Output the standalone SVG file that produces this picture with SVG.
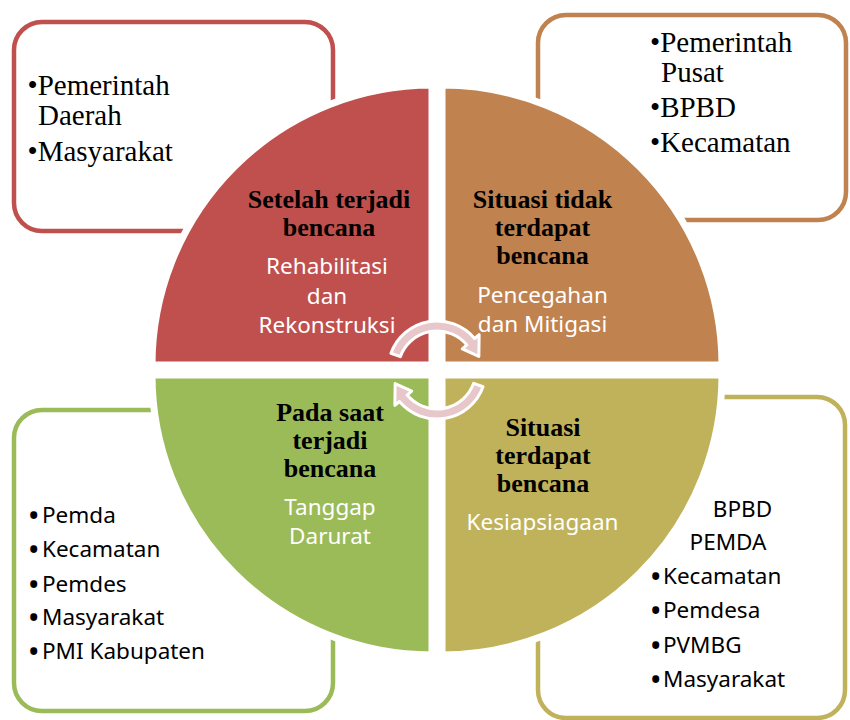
<svg xmlns="http://www.w3.org/2000/svg" width="850" height="720" viewBox="0 0 850 720">
<style>
.box{fill:#fff;stroke-width:4.5}
.q{stroke:#fff;stroke-width:7}
.hd{font-family:"Liberation Serif","Times New Roman",serif;font-weight:bold;font-size:26px;fill:#000;text-anchor:middle}
.wt{font-family:"Noto Sans","Open Sans",sans-serif;font-size:22.5px;fill:#fff;text-anchor:middle}
.sl{font-family:"Liberation Serif","Times New Roman",serif;font-size:29px;fill:#000}
.ss{font-family:"Noto Sans","Open Sans",sans-serif;font-size:22.5px;fill:#000}
.b{font-size:25px;font-weight:bold}
.arr{fill:#E7C7C9;stroke:#fff;stroke-width:3;stroke-linejoin:round}
</style>
<rect width="850" height="720" fill="#fff"/>
<g id="box-red"><rect class="box" x="14" y="22" width="319" height="209" rx="28" stroke="#C0504D"/>
<text class="sl" x="27.5" y="95">•Pemerintah</text>
<text class="sl" x="38" y="125">Daerah</text>
<text class="sl" x="27.5" y="161">•Masyarakat</text></g>
<g id="box-orange"><rect class="box" x="538" y="15" width="308" height="205" rx="28" stroke="#C0834F"/>
<text class="sl" x="650" y="52">•Pemerintah</text>
<text class="sl" x="661" y="82">Pusat</text>
<text class="sl" x="650" y="117">•BPBD</text>
<text class="sl" x="650" y="152">•Kecamatan</text></g>
<g id="box-green"><rect class="box" x="14" y="410" width="319" height="301" rx="28" stroke="#9BBB59"/>
<text class="ss"><tspan class="b" x="29" y="524">•</tspan><tspan x="42" y="523">Pemda</tspan></text>
<text class="ss"><tspan class="b" x="29" y="558">•</tspan><tspan x="42" y="557">Kecamatan</tspan></text>
<text class="ss"><tspan class="b" x="29" y="593">•</tspan><tspan x="42" y="592">Pemdes</tspan></text>
<text class="ss"><tspan class="b" x="29" y="626">•</tspan><tspan x="42" y="625">Masyarakat</tspan></text>
<text class="ss"><tspan class="b" x="29" y="660">•</tspan><tspan x="42" y="659">PMI Kabupaten</tspan></text></g>
<g id="box-olive"><rect class="box" x="538" y="397" width="307" height="321" rx="28" stroke="#C0B25B"/>
<text class="ss" x="742.5" y="517" text-anchor="middle">BPBD</text>
<text class="ss" x="728" y="550" text-anchor="middle">PEMDA</text>
<text class="ss"><tspan class="b" x="651" y="585">•</tspan><tspan x="663" y="584">Kecamatan</tspan></text>
<text class="ss"><tspan class="b" x="651" y="619">•</tspan><tspan x="663" y="618">Pemdesa</tspan></text>
<text class="ss"><tspan class="b" x="651" y="654">•</tspan><tspan x="663" y="653">PVMBG</tspan></text>
<text class="ss"><tspan class="b" x="651" y="688">•</tspan><tspan x="663" y="687">Masyarakat</tspan></text></g>
<g id="q-red"><path class="q" fill="#C0504D" d="M432,365 L152,365 A280,280 0 0 1 432,85 Z"/>
<text class="hd"><tspan x="329" y="208">Setelah terjadi</tspan><tspan x="329" y="236">bencana</tspan></text>
<text class="wt"><tspan x="327" y="274">Rehabilitasi</tspan><tspan x="327" y="304">dan</tspan><tspan x="327" y="333">Rekonstruksi</tspan></text></g>
<g id="q-orange"><path class="q" fill="#C0834F" d="M442,365 L442,85 A280,280 0 0 1 722,365 Z"/>
<text class="hd"><tspan x="542.5" y="208">Situasi tidak</tspan><tspan x="542.5" y="236">terdapat</tspan><tspan x="542.5" y="264">bencana</tspan></text>
<text class="wt"><tspan x="542.5" y="303">Pencegahan</tspan><tspan x="542.5" y="332">dan Mitigasi</tspan></text></g>
<g id="q-green"><path class="q" fill="#9BBB59" d="M432,375 L432,655 A280,280 0 0 1 152,375 Z"/>
<text class="hd"><tspan x="330" y="421">Pada saat</tspan><tspan x="330" y="449">terjadi</tspan><tspan x="330" y="477">bencana</tspan></text>
<text class="wt"><tspan x="330" y="515">Tanggap</tspan><tspan x="330" y="544">Darurat</tspan></text></g>
<g id="q-olive"><path class="q" fill="#C0B25B" d="M442,375 L722,375 A280,280 0 0 1 442,655 Z"/>
<text class="hd"><tspan x="543" y="436">Situasi</tspan><tspan x="543" y="464">terdapat</tspan><tspan x="543" y="492">bencana</tspan></text>
<text class="wt" x="542.5" y="530">Kesiapsiagaan</text></g>
<g id="connectors">
<path class="arr" d="M390.95,353.24 A49,49 0 0 1 474.54,338.5 L479.13,334.65 L478.85,356.4 L462.28,348.79 L466.87,344.93 A39,39 0 0 0 400.35,356.66 Z"/>
<path class="arr" transform="rotate(180 437 370)" d="M390.95,353.24 A49,49 0 0 1 474.54,338.5 L479.13,334.65 L478.85,356.4 L462.28,348.79 L466.87,344.93 A39,39 0 0 0 400.35,356.66 Z"/>
</g>
</svg>
